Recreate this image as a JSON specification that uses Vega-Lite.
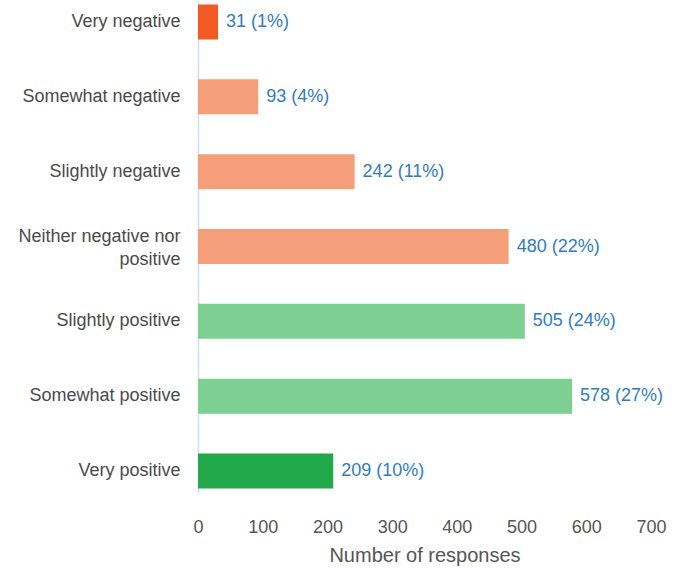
{
  "$schema": "https://vega.github.io/schema/vega-lite/v6.json",
  "width": 453,
  "height": 493,
  "autosize": {"type": "none"},
  "padding": {"left": 198, "top": 0, "right": 22, "bottom": 75},
  "background": "white",
  "config": {"view": {"stroke": null}, "font": "Liberation Sans"},
  "data": {"values": [
    {"response": "Very negative", "count": 31, "label": "31 (1%)", "group": "strong negative"},
    {"response": "Somewhat negative", "count": 93, "label": "93 (4%)", "group": "negative"},
    {"response": "Slightly negative", "count": 242, "label": "242 (11%)", "group": "negative"},
    {"response": "Neither negative nor positive", "count": 480, "label": "480 (22%)", "group": "negative"},
    {"response": "Slightly positive", "count": 505, "label": "505 (24%)", "group": "positive"},
    {"response": "Somewhat positive", "count": 578, "label": "578 (27%)", "group": "positive"},
    {"response": "Very positive", "count": 209, "label": "209 (10%)", "group": "strong positive"}
  ]},
  "encoding": {
    "y": {
      "field": "response", "type": "nominal", "sort": null,
      "scale": {"paddingInner": 0.532, "paddingOuter": 0.06},
      "axis": {
        "title": null, "ticks": false, "domainColor": "#d3dbe6", "domainWidth": 1.5,
        "labelFontSize": 18, "labelColor": "#4a4a4a", "labelPadding": 18,
        "labelLimit": 250, "labelLineHeight": 23,
        "labelOffset": {"condition": {"test": "datum.value == 'Neither negative nor positive'", "value": -10}, "value": 0},
        "labelExpr": "datum.label == 'Neither negative nor positive' ? ['Neither negative nor', 'positive'] : datum.label"
      }
    }
  },
  "layer": [
    {
      "mark": {"type": "bar"},
      "encoding": {
        "x": {
          "field": "count", "type": "quantitative",
          "scale": {"domain": [0, 700]},
          "axis": {
            "title": "Number of responses", "values": [0,100,200,300,400,500,600,700],
            "grid": false, "domain": false, "ticks": false, "labelFlush": false,
            "labelFontSize": 18, "labelColor": "#555555", "labelPadding": 25,
            "titleFontSize": 20, "titleFontWeight": "normal", "titleColor": "#555555", "titlePadding": 9
          }
        },
        "color": {
          "field": "group", "type": "nominal", "legend": null,
          "scale": {
            "domain": ["strong negative", "negative", "positive", "strong positive"],
            "range": ["#f15a22", "#f59f7a", "#7dcf92", "#21a84a"]
          }
        }
      }
    },
    {
      "mark": {"type": "text", "align": "left", "dx": 8, "fontSize": 18, "color": "#2f7dc0"},
      "encoding": {
        "x": {"field": "count", "type": "quantitative"},
        "text": {"field": "label"}
      }
    }
  ]
}
